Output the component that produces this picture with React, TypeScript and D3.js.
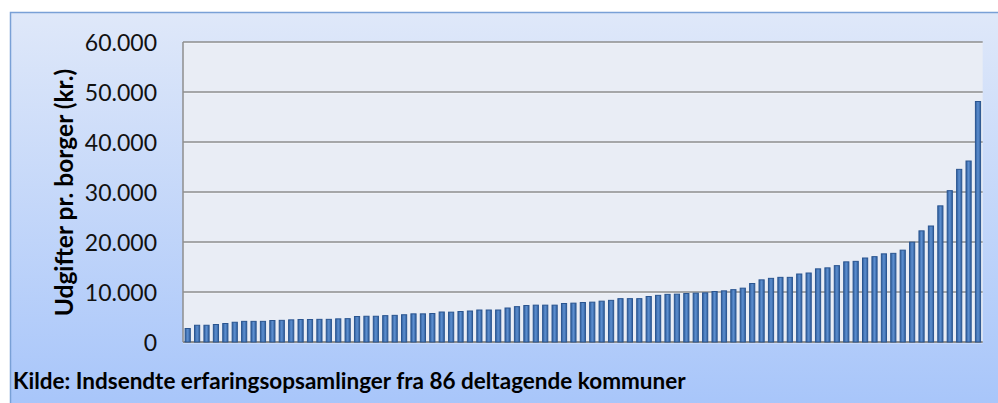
import React from "react";
import * as d3 from "d3";

const values: number[] = [
  2700, 3350, 3350, 3500, 3700, 3950, 4130, 4130, 4130, 4300,
  4330, 4430, 4500, 4500, 4530, 4530, 4630, 4670, 5100, 5150,
  5150, 5270, 5330, 5450, 5630, 5630, 5700, 6000, 5970, 6100,
  6200, 6400, 6400, 6400, 6800, 7070, 7300, 7370, 7370, 7370,
  7700, 7770, 7900, 7970, 8170, 8330, 8670, 8670, 8670, 9100,
  9330, 9530, 9570, 9700, 9770, 9830, 10100, 10230, 10470, 10770,
  11700, 12430, 12730, 12930, 12930, 13600, 13800, 14630, 14830, 15270,
  16030, 16130, 16800, 17070, 17630, 17730, 18370, 19970, 22230, 23200,
  27230, 30270, 34530, 36200, 48100,
];
const categories: string[] = values.map((_, i) => `K${i + 1}`);
const yTicks: number[] = [0, 10000, 20000, 30000, 40000, 50000, 60000];
const yTitle = "Udgifter pr. borger (kr.)";
const caption = "Kilde: Indsendte erfaringsopsamlinger fra 86 deltagende kommuner";

const W = 998;
const H = 403;
const plot = { left: 183, right: 982.7, top: 42, bottom: 342 };

const fmt = (v: number) =>
  v === 0 ? "0" : d3.format(",")(v).replace(/,/g, ".");

export default function App() {
  const x = d3
    .scaleBand<string>()
    .domain(categories)
    .range([plot.left, plot.right])
    .paddingInner(0.45)
    .paddingOuter(0.225);
  const y = d3.scaleLinear().domain([0, 60000]).range([plot.bottom, plot.top]);
  const bw = x.bandwidth();

  return (
    <div style={{ position: "absolute", left: 0, top: 0 }}>
      <svg width={W} height={H} style={{ display: "block" }}>
        <defs>
          <linearGradient id="bg" x1="0" y1="0" x2="0" y2="1">
            <stop offset="0" stopColor="#dfe8f9" />
            <stop offset="1" stopColor="#a7c5fa" />
          </linearGradient>
          <linearGradient id="bar" x1="0" y1="0" x2="1" y2="0">
            <stop offset="0" stopColor="#2f5e9c" />
            <stop offset="0.5" stopColor="#5d8fd0" />
            <stop offset="1" stopColor="#2f5e9c" />
          </linearGradient>
        </defs>
        <rect x={0} y={0} width={W} height={H} fill="#ffffff" />
        <rect
          x={10.5}
          y={12.5}
          width={1000}
          height={400}
          fill="url(#bg)"
          stroke="#79a0d6"
          strokeWidth={1.5}
        />
        <rect
          x={plot.left}
          y={plot.top}
          width={plot.right - plot.left}
          height={plot.bottom - plot.top}
          fill="#e9edf5"
        />
        {yTicks.map((t) => (
          <g key={t}>
            <line
              x1={plot.left}
              x2={plot.right}
              y1={y(t) + 1}
              y2={y(t) + 1}
              stroke="#ffffff"
              strokeOpacity={0.6}
              strokeWidth={1}
            />
            <line
              x1={plot.left}
              x2={plot.right}
              y1={y(t)}
              y2={y(t)}
              stroke="#8e8e8e"
              strokeWidth={t === 0 ? 2 : 1.5}
            />
            <text
              x={157}
              y={y(t)}
              textAnchor="end"
              dominantBaseline="central"
              fontFamily="Lato, 'Open Sans', sans-serif"
              fontSize={23}
              fill="#111"
            >
              {fmt(t)}
            </text>
          </g>
        ))}
        <line
          x1={plot.left}
          x2={plot.left}
          y1={plot.top}
          y2={plot.bottom}
          stroke="#8e8e8e"
          strokeWidth={1.5}
        />
        {values.map((v, i) => (
          <rect
            key={i}
            x={x(categories[i])!}
            y={y(v)}
            width={bw}
            height={y(0) - y(v)}
            fill="url(#bar)"
            stroke="#2a5590"
            strokeWidth={1}
          />
        ))}
        <text
          transform={`translate(63,192.5) rotate(-90)`}
          textAnchor="middle"
          dominantBaseline="central"
          fontFamily="Lato, 'Open Sans', sans-serif"
          fontWeight="bold"
          fontSize={24.5}
          fill="#000"
        >
          {yTitle}
        </text>
        <text
          x={13}
          y={389}
          fontFamily="Lato, 'Open Sans', sans-serif"
          fontWeight="bold"
          fontSize={22.5}
          fill="#000"
        >
          {caption}
        </text>
      </svg>
    </div>
  );
}
